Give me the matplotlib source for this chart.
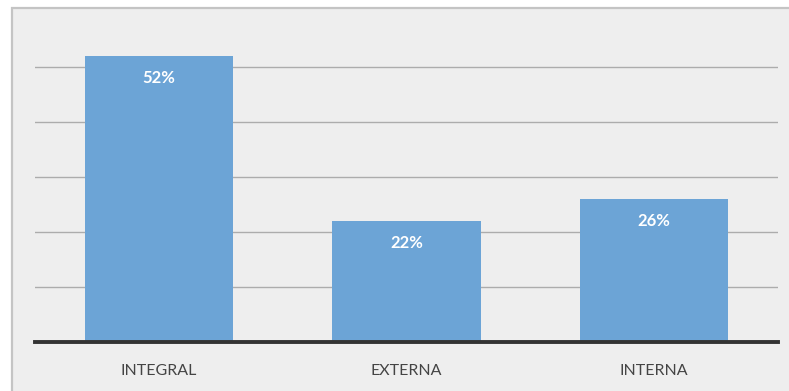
import matplotlib.pyplot as plt
from matplotlib.patches import Rectangle

categorias = ['INTEGRAL', 'EXTERNA', 'INTERNA']
valores = [52, 22, 26]
etiquetas = ['52%', '22%', '26%']

fig = plt.figure(figsize=(7.89, 3.91), dpi=100, facecolor='white')
# fondo gris del recuadro
fondo = Rectangle((12/789, -0.01), 1.05, 383/391 + 0.01, transform=fig.transFigure,
                  facecolor='#eeeeee', edgecolor='#c4c4c4', lw=1.6, zorder=-10)
fig.add_artist(fondo)

ax = fig.add_axes([35/789, 49/391, 743/789, 330/391])
ax.set_facecolor('none')
x = range(len(categorias))
bars = ax.bar(x, valores, width=0.6, color='#6ca4d6', zorder=2)
ax.set_xlim(-0.5, 2.5)
ax.set_ylim(0, 60)
ax.set_yticks([10, 20, 30, 40, 50])
ax.yaxis.grid(True, color='#acacac', lw=1.0, zorder=1)
ax.tick_params(left=False, labelleft=False, bottom=False)
ax.set_xticks(list(x))
ax.set_xticklabels(categorias, fontsize=11.5, color='#444444', family=['Lato', 'DejaVu Sans'])
ax.tick_params(axis='x', pad=12)
for s in ['top', 'right', 'left']:
    ax.spines[s].set_visible(False)
ax.spines['bottom'].set_color('#333333')
ax.spines['bottom'].set_linewidth(2.8)
ax.spines['bottom'].set_zorder(3)

for b, t in zip(bars, etiquetas):
    ax.text(b.get_x() + b.get_width()/2, b.get_height() - 4, t, ha='center', va='center',
            color='white', fontsize=12, fontweight='bold', family=['Lato', 'DejaVu Sans'], zorder=4)

fig.savefig('out.png', dpi=100, facecolor=fig.get_facecolor())
